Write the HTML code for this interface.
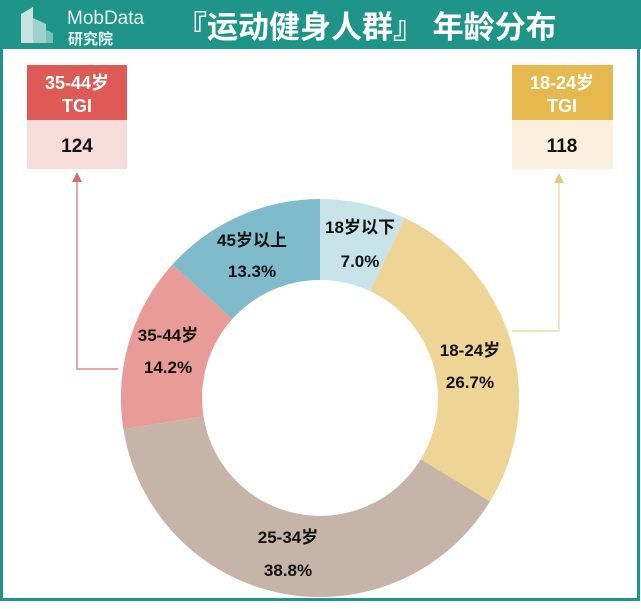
<!DOCTYPE html>
<html><head><meta charset="utf-8"><style>
body{margin:0;width:641px;height:604px;overflow:hidden;background:#fff;font-family:"Liberation Sans","Noto Sans CJK SC",sans-serif}
</style></head><body>
<svg width="641" height="604" viewBox="0 0 641 604" xmlns="http://www.w3.org/2000/svg" font-family="'Liberation Sans','Noto Sans CJK SC',sans-serif">
<rect x="0" y="0" width="641" height="604" fill="#fff"/>
<rect x="1.5" y="1.5" width="637" height="598" fill="none" stroke="#1f9488" stroke-width="3"/>
<rect x="0" y="0" width="641" height="49" fill="#1f9488"/>
<g fill="#d7ecea">
<path d="M21 43 V14 L33 7 V43Z" opacity="0.9"/>
<path d="M33 43 V18 L46 24 V43Z" opacity="0.7"/>
<path d="M46 43 V30 L53 33 V43Z" opacity="0.5"/>
</g>
<text x="67" y="24" font-size="19" fill="#e8f4f2">MobData</text>
<text x="68" y="44" font-size="15" fill="#e8f4f2" font-weight="bold">研究院</text>
<text x="176" y="38" font-size="31" font-weight="bold" fill="#fff">『运动健身人群』 年龄分布</text>

<rect x="27" y="65" width="100" height="55" fill="#dd5a55"/>
<rect x="27" y="120" width="100" height="49" fill="#f6dcdb"/>
<text x="77" y="89" font-size="18" font-weight="bold" fill="#fff" text-anchor="middle">35-44岁</text>
<text x="77" y="112" font-size="18" font-weight="bold" fill="#fff" text-anchor="middle">TGI</text>
<text x="77" y="152" font-size="19" font-weight="bold" fill="#111" text-anchor="middle">124</text>

<rect x="512" y="65" width="101" height="55" fill="#e5b94e"/>
<rect x="512" y="120" width="101" height="49" fill="#faf0dd"/>
<text x="562" y="89" font-size="18" font-weight="bold" fill="#fff" text-anchor="middle">18-24岁</text>
<text x="562" y="112" font-size="18" font-weight="bold" fill="#fff" text-anchor="middle">TGI</text>
<text x="562" y="152" font-size="19" font-weight="bold" fill="#111" text-anchor="middle">118</text>

<polyline points="77,176 77,369 118,369" fill="none" stroke="#d0706c" stroke-width="1.2"/>
<path d="M72,182 L77,172 L82,182Z" fill="#d0706c"/>
<polyline points="559,178 559,331 512,331" fill="none" stroke="#ecd39a" stroke-width="1.2"/>
<path d="M554,183 L559,173 L564,183Z" fill="#e5c77a"/>

<path d="M320,199 A199,199 0 0 1 404.7,217.9 L370.2,291.2 A118,118 0 0 0 320,280Z" fill="#c8e4ea"/>
<path d="M404.7,217.9 A199,199 0 0 1 490,501.5 L420.8,459.3 A118,118 0 0 0 370.2,291.2Z" fill="#efd595"/>
<path d="M490,501.5 A199,199 0 0 1 123.4,429.1 L203.5,416.5 A118,118 0 0 0 420.8,459.3Z" fill="#c5b4a7"/>
<path d="M123.4,429.1 A199,199 0 0 1 172.3,264.6 L232.4,318.9 A118,118 0 0 0 203.5,416.5Z" fill="#e99b98"/>
<path d="M172.3,264.6 A199,199 0 0 1 320,199 L320,280 A118,118 0 0 0 232.4,318.9Z" fill="#7fbbcb"/>

<g font-size="17" font-weight="bold" fill="#111" text-anchor="middle">
<text x="360" y="233">18岁以下</text><text x="360" y="267">7.0%</text>
<text x="252" y="246">45岁以上</text><text x="252" y="277">13.3%</text>
<text x="168" y="341">35-44岁</text><text x="168" y="373">14.2%</text>
<text x="470" y="356">18-24岁</text><text x="470" y="388">26.7%</text>
<text x="288" y="543">25-34岁</text><text x="288" y="576">38.8%</text>
</g>
</svg>
</body></html>
